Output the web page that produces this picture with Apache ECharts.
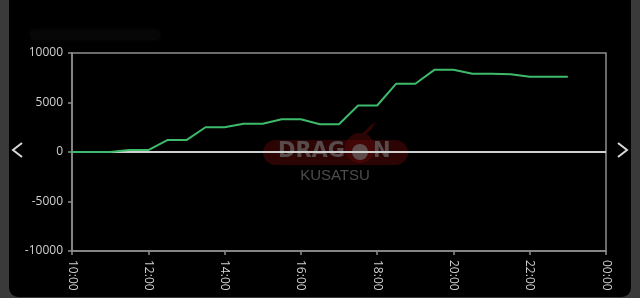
<!DOCTYPE html>
<html><head><meta charset="utf-8">
<style>html,body{margin:0;padding:0;background:#3a3a3a;}#c{width:640px;height:298px;}</style>
<script src="https://cdn.jsdelivr.net/npm/echarts@6/dist/echarts.min.js"></script>
</head><body><div id="c"></div>
<script>
var times = ['10:00','10:30','11:00','11:30','12:00','12:30','13:00','13:30','14:00','14:30','15:00','15:30','16:00','16:30','17:00','17:30','18:00','18:30','19:00','19:30','20:00','20:30','21:00','21:30','22:00','22:30','23:00'];
var values = [0,0,0,200,200,1200,1200,2500,2500,2850,2850,3300,3300,2800,2800,4700,4700,6900,6900,8300,8300,7900,7900,7850,7600,7600,7600];
var xTicks = ['10:00','12:00','14:00','16:00','18:00','20:00','22:00','00:00'];
var yTicks = [-10000,-5000,0,5000,10000];

function toHour(t){var p=t.split(':');return +p[0]+ (+p[1])/60;}
var pts = times.map(function(t,i){return [toHour(t), values[i]];});

var chart = echarts.init(document.getElementById('c'), null, {renderer:'canvas'});
var axisCol = '#8e8e8e', labCol = '#cfcfcf';
chart.setOption({
  backgroundColor: '#3a3a3a',
  animation: false,
  grid: {left:72, right:34, top:53, bottom:47, show:true, borderColor:axisCol, borderWidth:1.5, backgroundColor:'transparent'},
  xAxis: {type:'value', min:10, max:24, interval:2,
    axisLine:{show:true, onZero:false, lineStyle:{color:axisCol, width:1.5}},
    axisTick:{show:true, length:4, lineStyle:{color:axisCol, width:1.5}},
    splitLine:{show:false},
    axisLabel:{color:labCol, fontSize:12, fontFamily:'Open Sans, DejaVu Sans, sans-serif', rotate:-90, margin:9,
      formatter:function(v){return xTicks[Math.round((v-10)/2)];}}
  },
  yAxis: {type:'value', min:yTicks[0], max:yTicks[yTicks.length-1], interval:5000,
    axisLine:{show:true, lineStyle:{color:axisCol, width:1.5}},
    axisTick:{show:true, length:4, lineStyle:{color:axisCol, width:1.5}},
    splitLine:{show:false},
    axisLabel:{color:labCol, fontSize:12, fontFamily:'Open Sans, DejaVu Sans, sans-serif', margin:9,
      formatter:function(v){return String(v);}}
  },
  graphic: [
    {type:'rect', z:-10, shape:{x:9, y:-20, width:622, height:317, r:9}, style:{fill:'#000'}},
    {type:'rect', z:-5, shape:{x:30, y:30, width:130, height:10, r:3}, style:{fill:'#070707', shadowBlur:6, shadowColor:'#070707'}},
    {type:'polyline', shape:{points:[[22,143],[13,150],[22,157]]}, style:{stroke:'#d8d8d8', lineWidth:2, fill:null}},
    {type:'polyline', shape:{points:[[618,143],[627,150],[618,157]]}, style:{stroke:'#d8d8d8', lineWidth:2, fill:null}},
    {type:'group', z:100, children:[
      {type:'circle', shape:{cx:360, cy:148, r:15}, style:{fill:'rgba(90,8,8,0.5)'}},
      {type:'polygon', shape:{points:[[362,134],[372,124],[376,122],[371,130],[366,134]]}, style:{fill:'rgba(90,8,8,0.55)'}},
      {type:'rect', shape:{x:263, y:140, width:145, height:25, r:12.5}, style:{fill:'rgba(90,8,8,0.5)'}},
      {type:'text', x:278, y:152, style:{text:'DRAG', fill:'rgba(105,105,105,0.7)', font:'bold 21px DejaVu Sans, sans-serif', verticalAlign:'middle'}},
      {type:'circle', shape:{cx:360, cy:152, r:8}, style:{fill:'rgba(105,105,105,0.7)'}},
      {type:'text', x:373, y:152, style:{text:'N', fill:'rgba(105,105,105,0.7)', font:'bold 21px DejaVu Sans, sans-serif', verticalAlign:'middle'}},
      {type:'text', x:335, y:176, style:{text:'KUSATSU', fill:'rgba(85,85,85,0.9)', font:'15px Liberation Sans, sans-serif', align:'center', verticalAlign:'middle'}}
    ]}
  ],
  series: [{
    type:'line', data:pts, symbol:'none', z:5,
    lineStyle:{color:'#3dba6a', width:2},
    markLine:{silent:true, symbol:'none', label:{show:false}, z:3,
      lineStyle:{color:'#d0d0d0', width:2, type:'solid'}, data:[{yAxis:0}]}
  }]
});
</script></body></html>
